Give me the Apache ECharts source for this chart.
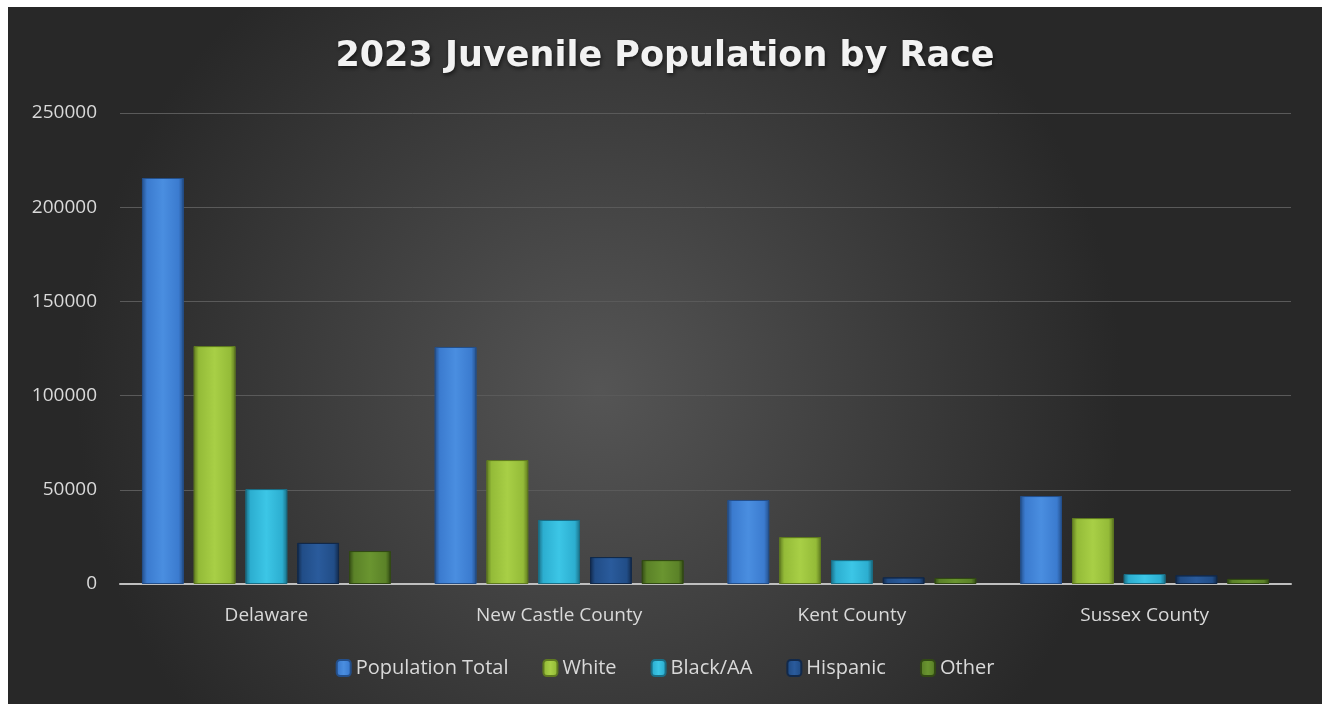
<!DOCTYPE html>
<html>
<head>
<meta charset="utf-8">
<script src="https://cdn.jsdelivr.net/npm/echarts@6/dist/echarts.min.js"></script>
<style>
html,body{margin:0;padding:0;background:#fff;}
#chart{position:absolute;left:8px;top:7px;width:1314px;height:697px;}
</style>
</head>
<body>
<div id="chart"></div>
<script>
// 数据
var categories=['Delaware','New Castle County','Kent County','Sussex County'];
var totalData=[215500,125800,44600,46700];
var whiteData=[126300,65800,24900,35000];
var blackData=[50400,34000,12700,5300];
var hispanicData=[21800,14300,3500,4600];
var otherData=[17500,12700,3200,2700];
var yTicks=[0,50000,100000,150000,200000,250000];

var fontName='"Open Sans", sans-serif';

// 斜面效果的柱子颜色
function bevel(light,mid,dark){
	return new echarts.graphic.LinearGradient(0,0,1,0,[
		{offset:0,color:dark},
		{offset:0.12,color:mid},
		{offset:0.5,color:light},
		{offset:0.88,color:mid},
		{offset:1,color:dark}
	]);
}

function makeSeries(name,data,light,mid,dark){
	return {
		name:name,
		type:'bar',
		data:data,
		barGap:'24%',
		barCategoryGap:'15%',
		itemStyle:{
			color:bevel(light,mid,dark),
			borderColor:dark,
			borderWidth:1
		}
	};
}

var chart=echarts.init(document.getElementById('chart'));
var option={
	backgroundColor:new echarts.graphic.RadialGradient(0.45,0.55,0.75,[
		{offset:0,color:'#555555'},
		{offset:1,color:'#282828'}
	]),
	title:{
		text:'2023 Juvenile Population by Race',
		left:'center',
		top:27,
		textStyle:{
			color:'#f2f2f2',
			fontFamily:'"DejaVu Sans", sans-serif',
			fontWeight:'bold',
			fontSize:35,
			textShadowColor:'rgba(0,0,0,0.6)',
			textShadowBlur:4,
			textShadowOffsetX:1,
			textShadowOffsetY:2
		}
	},
	legend:{
		bottom:21,
		left:'center',
		itemWidth:14,
		itemHeight:16,
		itemGap:34,
		textStyle:{color:'#d9d9d9',fontFamily:fontName,fontSize:20},
		data:['Population Total','White','Black/AA','Hispanic','Other']
	},
	grid:{left:112,right:31,top:106,bottom:120,containLabel:false},
	xAxis:{
		type:'category',
		data:categories,
		axisLine:{lineStyle:{color:'#bfbfbf',width:2}},
		axisTick:{show:false},
		axisLabel:{color:'#d9d9d9',fontFamily:fontName,fontSize:19,margin:22}
	},
	yAxis:{
		type:'value',
		min:yTicks[0],
		max:yTicks[yTicks.length-1],
		interval:50000,
		axisLine:{show:false},
		axisTick:{show:false},
		axisLabel:{color:'#d9d9d9',fontFamily:fontName,fontSize:19,margin:23,formatter:function(v){return String(v);}},
		splitLine:{lineStyle:{color:'#5a5a5a',width:1}}
	},
	series:[
		makeSeries('Population Total',totalData,'#4a8ee0','#3b7bcf','#244f8a'),
		makeSeries('White',whiteData,'#a8cf46','#94bb38','#5f7a20'),
		makeSeries('Black/AA',blackData,'#3cc6e6','#2caed0','#1a6e85'),
		makeSeries('Hispanic',hispanicData,'#2a5b9c','#214d87','#12294a'),
		makeSeries('Other',otherData,'#6a9530','#5b8228','#324a14')
	]
};
chart.setOption(option);
</script>
</body>
</html>
